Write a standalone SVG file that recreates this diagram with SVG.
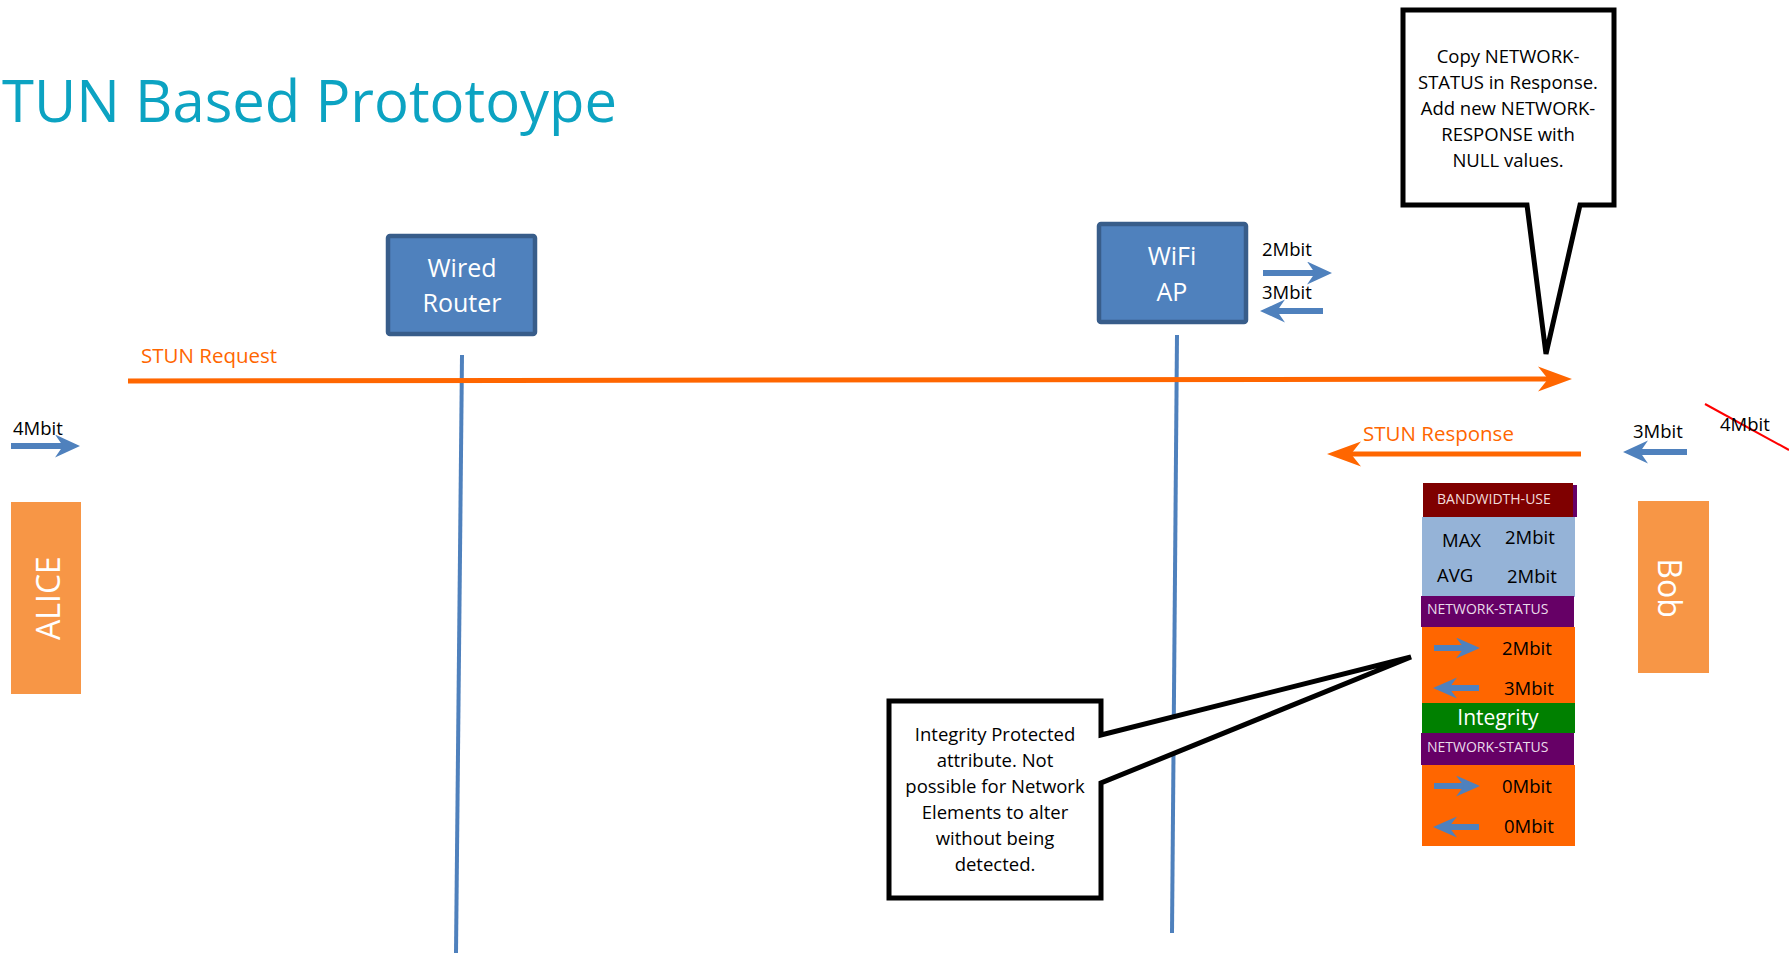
<svg xmlns="http://www.w3.org/2000/svg" width="1789" height="955" viewBox="0 0 1789 955">
<style>
text{font-family:"Open Sans","Liberation Sans",sans-serif}
.title{font-size:58px;fill:#0ca3c2}
.box{fill:#4f81bd;stroke:#385d8a;stroke-width:4.5}
.boxt{font-size:25px;fill:#fff;text-anchor:middle}
.lbl{font-size:18.5px;fill:#000}
.olbl{font-size:20.5px;fill:#ff6600}
.call{fill:#fff;stroke:#000;stroke-width:5;stroke-linejoin:miter}
.ct{font-size:18.5px;fill:#000;text-anchor:middle}
.end{fill:#f79646}
.endt{font-size:32px;fill:#fff;text-anchor:middle}
.life{stroke:#4f81bd;stroke-width:4;fill:none}
.oarr{stroke:#ff6600;stroke-width:5;fill:none}
.barr{stroke:#4f81bd;stroke-width:6;fill:none}
.sarr{stroke:#4f81bd;stroke-width:6;fill:none}
.hdr{font-size:14px}
.sv{font-size:18.5px;fill:#000}
</style>
<defs>
<marker id="oh" markerUnits="userSpaceOnUse" markerWidth="40" markerHeight="30" refX="10" refY="12.5" orient="auto">
<path d="M0,0 L34,12.5 L0,25 L10,12.5 Z" fill="#ff6600"/>
</marker>
<marker id="bh" markerUnits="userSpaceOnUse" markerWidth="30" markerHeight="26" refX="8" refY="11.5" orient="auto">
<path d="M0,0 L25,11.5 L0,23 L8,11.5 Z" fill="#4f81bd"/>
</marker>
<marker id="sh" markerUnits="userSpaceOnUse" markerWidth="28" markerHeight="24" refX="8" refY="10.5" orient="auto">
<path d="M0,0 L24,10.5 L0,21 L8,10.5 Z" fill="#4f81bd"/>
</marker>
</defs>

<g id="title"><text class="title" x="2" y="122">TUN Based Prototoype</text></g>

<g id="connectors">
<line class="life" x1="462" y1="355" x2="456" y2="953"/>
<line class="life" x1="1177" y1="335" x2="1172" y2="933"/>
<line class="oarr" x1="128" y1="381" x2="1548" y2="379" marker-end="url(#oh)"/>
<line class="oarr" x1="1581" y1="454" x2="1351" y2="454" marker-end="url(#oh)"/>
<line class="barr" x1="11" y1="446" x2="63" y2="446" marker-end="url(#bh)"/>
<line class="barr" x1="1263" y1="273" x2="1315" y2="273" marker-end="url(#bh)"/>
<line class="barr" x1="1323" y1="311" x2="1277" y2="311" marker-end="url(#bh)"/>
<line class="barr" x1="1687" y1="452" x2="1640" y2="452" marker-end="url(#bh)"/>
<line x1="1705" y1="404" x2="1789" y2="450" stroke="#ff0000" stroke-width="2"/>
</g>

<g id="wired-router">
<rect class="box" x="388" y="236" width="147" height="98" rx="2"/>
<text class="boxt" x="462" y="277">Wired</text>
<text class="boxt" x="462" y="312">Router</text>
</g>

<g id="wifi-ap">
<rect class="box" x="1099" y="224" width="147" height="98" rx="2"/>
<text class="boxt" x="1172" y="265">WiFi</text>
<text class="boxt" x="1172" y="301">AP</text>
</g>

<g id="labels">
<text class="lbl" x="1262" y="256">2Mbit</text>
<text class="lbl" x="1262" y="299">3Mbit</text>
<text class="lbl" x="13" y="435">4Mbit</text>
<text class="lbl" x="1633" y="438">3Mbit</text>
<text class="lbl" x="1720" y="431">4Mbit</text>
<text class="olbl" x="141" y="363">STUN Request</text>
<text class="olbl" x="1363" y="441">STUN Response</text>
</g>

<g id="alice">
<rect class="end" x="11" y="502" width="70" height="192"/>
<text class="endt" transform="translate(60,598) rotate(-90)">ALICE</text>
</g>

<g id="bob">
<rect class="end" x="1638" y="501" width="71" height="172"/>
<text class="endt" font-size="31" transform="translate(1658,588) rotate(90)">Bob</text>
</g>

<g id="callout-response">
<path class="call" d="M1403,10 H1614 V205 H1580 L1546,354 L1527,205 H1403 Z"/>
<text class="ct" x="1508" y="63">Copy NETWORK-</text>
<text class="ct" x="1508" y="89">STATUS in Response.</text>
<text class="ct" x="1508" y="115">Add new NETWORK-</text>
<text class="ct" x="1508" y="141">RESPONSE with</text>
<text class="ct" x="1508" y="167">NULL values.</text>
</g>

<g id="callout-integrity">
<path class="call" d="M889,701 H1101 V735 L1411,657 L1101,783 V898 H889 Z"/>
<text class="ct" x="995" y="741">Integrity Protected</text>
<text class="ct" x="995" y="767">attribute. Not</text>
<text class="ct" x="995" y="793">possible for Network</text>
<text class="ct" x="995" y="819">Elements to alter</text>
<text class="ct" x="995" y="845">without being</text>
<text class="ct" x="995" y="871">detected.</text>
</g>

<g id="attribute-stack">
<rect x="1425" y="485" width="152" height="32" fill="#660066"/>
<rect x="1423" y="483" width="150" height="34" fill="#7f0000"/>
<text class="hdr" x="1437" y="504" fill="#f2dcdb">BANDWIDTH-USE</text>
<rect x="1422" y="517" width="153" height="80" fill="#95b3d7"/>
<text class="sv" x="1442" y="547">MAX</text>
<text class="sv" x="1505" y="544">2Mbit</text>
<text class="sv" x="1437" y="582">AVG</text>
<text class="sv" x="1507" y="583">2Mbit</text>
<rect x="1421" y="596" width="153" height="31" fill="#660066"/>
<text class="hdr" x="1427" y="614" fill="#eadcea">NETWORK-STATUS</text>
<rect x="1422" y="627" width="153" height="76" fill="#ff6600"/>
<line class="sarr" x1="1434" y1="648" x2="1464" y2="648" marker-end="url(#sh)"/>
<text class="sv" x="1502" y="655">2Mbit</text>
<line class="sarr" x1="1479" y1="688" x2="1449" y2="688" marker-end="url(#sh)"/>
<text class="sv" x="1504" y="695">3Mbit</text>
<rect x="1422" y="703" width="153" height="30" fill="#008000"/>
<text x="1498" y="725" font-size="21" fill="#fff" text-anchor="middle">Integrity</text>
<rect x="1421" y="733" width="153" height="32" fill="#660066"/>
<text class="hdr" x="1427" y="752" fill="#eadcea">NETWORK-STATUS</text>
<rect x="1422" y="765" width="153" height="81" fill="#ff6600"/>
<line class="sarr" x1="1434" y1="786" x2="1464" y2="786" marker-end="url(#sh)"/>
<text class="sv" x="1502" y="793">0Mbit</text>
<line class="sarr" x1="1479" y1="827" x2="1449" y2="827" marker-end="url(#sh)"/>
<text class="sv" x="1504" y="833">0Mbit</text>
</g>
</svg>
